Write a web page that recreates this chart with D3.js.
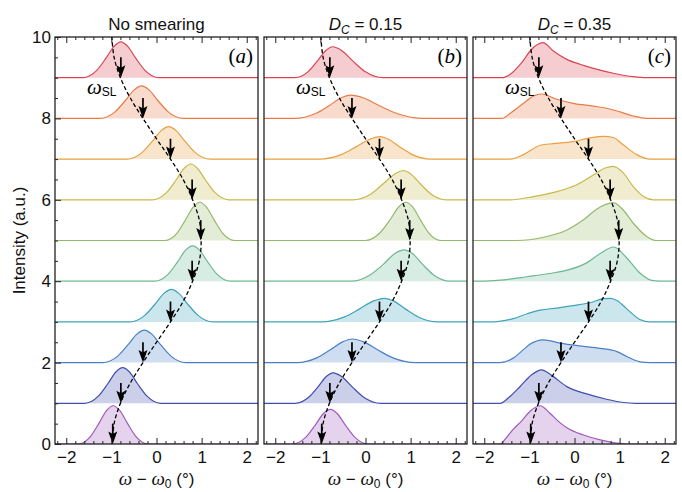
<!DOCTYPE html>
<html><head><meta charset="utf-8">
<script src="https://cdn.jsdelivr.net/npm/d3@7"></script>
<style>body{margin:0;background:#fff} svg{display:block}</style>
</head><body><svg id="chart" width="682" height="492"></svg>
<script>
// ---------------- DATA ----------------
const baselines = [0,1,2,3,4,5,6,7,8,9];
const panelTitles = ["No smearing", "D_C = 0.15", "D_C = 0.35"];
const panelTags = ["a","b","c"];
const xTicks = [-2,-1,0,1,2];
const yTicks = [0,2,4,6,8,10];
const curveColors = ["#9e5bbf","#3f4fae","#4a80c6","#3fa3b9","#6cb892","#94b96b","#c9b94c","#e9a043","#ea7b46","#db4552"];

// omega_SL dashed guide (x read at y steps)
const omegaY = [0,0.5,1,1.5,2,2.5,3,3.5,4,4.5,5,5.5,6,6.5,7,7.5,8,8.5,9,9.5,10];
const omegaX = [-0.98,-0.94,-0.80,-0.58,-0.30,0.0,0.31,0.59,0.80,0.95,0.99,0.95,0.80,0.59,0.31,0.0,-0.30,-0.58,-0.80,-0.94,-0.99];
// arrow positions at each baseline
const arrowX = [-0.97,-0.79,-0.30,0.31,0.79,0.98,0.79,0.31,-0.30,-0.79];

// curve key points [omega, intensity above baseline]
const curvesNoSmear = [
 [[-1.74,0],[-1.46,0.19],[-1.27,0.52],[-1.10,0.83],[-0.96,0.94],[-0.82,0.83],[-0.65,0.52],[-0.46,0.19],[-0.18,0]],
 [[-1.59,0],[-1.29,0.175],[-1.08,0.48],[-0.90,0.77],[-0.75,0.875],[-0.60,0.77],[-0.42,0.48],[-0.21,0.175],[0.09,0]],
 [[-1.19,0],[-0.86,0.16],[-0.63,0.44],[-0.435,0.70],[-0.27,0.80],[-0.105,0.70],[0.09,0.44],[0.32,0.16],[0.65,0]],
 [[-0.59,0],[-0.26,0.16],[-0.03,0.44],[0.165,0.70],[0.33,0.80],[0.495,0.70],[0.69,0.44],[0.92,0.16],[1.25,0]],
 [[-0.04,0],[0.26,0.175],[0.47,0.48],[0.65,0.77],[0.80,0.87],[0.95,0.77],[1.13,0.48],[1.34,0.175],[1.64,0]],
 [[0.18,0],[0.46,0.19],[0.65,0.52],[0.82,0.83],[0.96,0.94],[1.10,0.83],[1.27,0.52],[1.46,0.19],[1.74,0]],
 [[-0.08,0],[0.22,0.175],[0.43,0.48],[0.61,0.77],[0.76,0.88],[0.91,0.77],[1.09,0.48],[1.30,0.175],[1.60,0]],
 [[-0.65,0],[-0.32,0.16],[-0.09,0.44],[0.105,0.70],[0.27,0.80],[0.435,0.70],[0.63,0.44],[0.86,0.16],[1.19,0]],
 [[-1.25,0],[-0.92,0.16],[-0.69,0.44],[-0.495,0.70],[-0.33,0.80],[-0.165,0.70],[0.03,0.44],[0.26,0.16],[0.59,0]],
 [[-1.63,0],[-1.33,0.175],[-1.12,0.48],[-0.94,0.77],[-0.79,0.88],[-0.64,0.77],[-0.46,0.48],[-0.25,0.175],[0.05,0]]
];
const curvesD015 = [
 [[-1.62,0],[-1.32,0.17],[-1.11,0.47],[-0.93,0.75],[-0.78,0.85],[-0.63,0.75],[-0.45,0.47],[-0.24,0.17],[0.06,0]],
 [[-1.56,0],[-1.26,0.15],[-1.05,0.41],[-0.87,0.66],[-0.72,0.75],[-0.53,0.66],[-0.30,0.41],[-0.04,0.15],[0.34,0]],
 [[-1.52,0],[-1.08,0.116],[-0.77,0.32],[-0.51,0.51],[-0.29,0.58],[-0.04,0.51],[0.26,0.32],[0.61,0.116],[1.11,0]],
 [[-0.98,0],[-0.48,0.116],[-0.13,0.32],[0.17,0.51],[0.42,0.58],[0.63,0.51],[0.88,0.32],[1.18,0.116],[1.60,0]],
 [[-0.32,0],[0.10,0.154],[0.40,0.42],[0.65,0.68],[0.86,0.77],[1.04,0.68],[1.26,0.42],[1.51,0.154],[1.87,0]],
 [[0.00,0],[0.32,0.19],[0.55,0.52],[0.74,0.83],[0.90,0.94],[1.04,0.83],[1.21,0.52],[1.40,0.19],[1.68,0]],
 [[-0.28,0],[0.12,0.144],[0.40,0.40],[0.64,0.63],[0.84,0.72],[1.01,0.63],[1.21,0.40],[1.45,0.144],[1.79,0]],
 [[-1.02,0],[-0.54,0.11],[-0.21,0.30],[0.08,0.48],[0.32,0.55],[0.52,0.48],[0.76,0.30],[1.04,0.11],[1.44,0]],
 [[-1.56,0],[-1.12,0.114],[-0.81,0.31],[-0.55,0.50],[-0.33,0.57],[-0.04,0.50],[0.31,0.31],[0.71,0.114],[1.29,0]],
 [[-1.57,0],[-1.27,0.15],[-1.06,0.42],[-0.88,0.67],[-0.73,0.76],[-0.53,0.67],[-0.29,0.42],[-0.01,0.15],[0.39,0]]
];
const curvesD035 = [
 [[-1.65,0],[-1.50,0.17],[-1.36,0.36],[-1.17,0.57],[-0.99,0.80],[-0.76,0.94],[-0.54,0.75],[-0.35,0.55],[-0.17,0.40],[0.20,0.22],[0.57,0.10],[0.94,0.02],[1.16,0]],
 [[-1.65,0],[-1.45,0.15],[-1.20,0.42],[-0.95,0.70],[-0.73,0.82],[-0.50,0.68],[-0.17,0.41],[0.27,0.23],[0.71,0.10],[1.08,0.02],[1.35,0]],
 [[-1.65,0],[-1.36,0.11],[-1.15,0.30],[-0.99,0.45],[-0.69,0.56],[-0.32,0.48],[0.12,0.41],[0.57,0.35],[0.94,0.27],[1.16,0.15],[1.45,0.02],[1.67,0]],
 [[-1.80,0],[-1.36,0.08],[-1.05,0.20],[-0.76,0.29],[-0.39,0.34],[-0.03,0.40],[0.34,0.47],[0.64,0.57],[0.80,0.58],[0.95,0.52],[1.16,0.32],[1.45,0.06],[1.67,0]],
 [[-2.09,0],[-1.65,0.025],[-1.06,0.11],[-0.55,0.19],[-0.10,0.29],[0.27,0.45],[0.57,0.68],[0.87,0.84],[1.16,0.57],[1.45,0.20],[1.71,0.02],[1.90,0]],
 [[-1.28,0],[-0.69,0.08],[-0.17,0.26],[0.20,0.51],[0.49,0.77],[0.68,0.88],[0.86,0.93],[1.08,0.75],[1.30,0.43],[1.60,0.10],[1.82,0]],
 [[-1.43,0],[-0.91,0.08],[-0.39,0.20],[0.05,0.37],[0.42,0.61],[0.68,0.78],[0.86,0.82],[1.08,0.66],[1.30,0.33],[1.53,0.08],[1.75,0]],
 [[-1.43,0],[-1.13,0.11],[-0.76,0.34],[-0.47,0.38],[-0.03,0.43],[0.34,0.52],[0.64,0.56],[0.86,0.53],[1.08,0.35],[1.38,0.11],[1.67,0]],
 [[-1.61,0],[-1.43,0.12],[-1.13,0.37],[-0.91,0.55],[-0.73,0.60],[-0.39,0.47],[-0.03,0.37],[0.42,0.30],[0.71,0.25],[1.01,0.16],[1.30,0.06],[1.60,0]],
 [[-1.61,0],[-1.43,0.08],[-1.17,0.37],[-0.95,0.70],[-0.70,0.86],[-0.47,0.655],[-0.17,0.45],[0.12,0.33],[0.42,0.23],[0.86,0.11],[1.30,0.025],[1.60,0]]
];

// ---------------- DRAW ----------------
const svg = d3.select("#chart");
const sans = "'Liberation Sans', Arial, sans-serif";
const serif = "'Liberation Serif', 'Times New Roman', serif";
const panelX = [[55,258],[264,467],[473,676]];
const yTop = 37, yBot = 444;
const xDom = [-2.25, 2.25];
const y = d3.scaleLinear().domain([0,10]).range([yBot, yTop]);
const panels = [curvesNoSmear, curvesD015, curvesD035];

const defs = svg.append("defs");

panels.forEach((curves, p) => {
  const x = d3.scaleLinear().domain(xDom).range(panelX[p]);
  const cid = "clip" + p;
  defs.append("clipPath").attr("id", cid).append("rect")
    .attr("x", panelX[p][0]).attr("y", yTop)
    .attr("width", panelX[p][1]-panelX[p][0]).attr("height", yBot-yTop);
  const g = svg.append("g").attr("clip-path", `url(#${cid})`);

  curves.forEach((pts, i) => {
    const b = baselines[i];
    const full = [[xDom[0],0], ...pts, [xDom[1],0]];
    const area = d3.area().x(d => x(d[0])).y0(y(b)).y1(d => y(b + d[1])).curve(d3.curveMonotoneX);
    const line = d3.line().x(d => x(d[0])).y(d => y(b + d[1])).curve(d3.curveMonotoneX);
    g.append("path").attr("d", area(full)).attr("fill", curveColors[i]).attr("fill-opacity", 0.27);
    g.append("path").attr("d", line(full)).attr("fill", "none").attr("stroke", curveColors[i]).attr("stroke-width", 1.2);
  });

  // dashed omega_SL line
  const guide = d3.line().x(d => x(d[0])).y(d => y(d[1])).curve(d3.curveCatmullRom);
  g.append("path").attr("d", guide(omegaX.map((v,k)=>[v, omegaY[k]])))
    .attr("fill","none").attr("stroke","#000").attr("stroke-width",1.3).attr("stroke-dasharray","4,2.5");

  // arrows
  arrowX.forEach((ax, i) => {
    const b = baselines[i];
    const tx = x(ax), ty = y(b);
    g.append("line").attr("x1", tx).attr("x2", tx).attr("y1", y(b+0.5)).attr("y2", ty-8)
      .attr("stroke","#000").attr("stroke-width",1.7);
    g.append("path").attr("d", `M${tx},${ty} L${tx-4.5},${ty-12.5} L${tx},${ty-10} L${tx+4.5},${ty-12.5} Z`)
      .attr("fill","#000");
  });

  // omega_SL label
  const lab = svg.append("text").attr("x", panelX[p][0]+32).attr("y", 94);
  lab.append("tspan").text("ω").attr("font-family", serif).attr("font-style","italic").attr("font-size",21);
  lab.append("tspan").text("SL").attr("font-family", sans).attr("font-size",12).attr("dy",2);

  // panel tag
  const tag = svg.append("text").attr("x", panelX[p][1]-5).attr("y", 63).attr("text-anchor","end")
    .attr("font-family", serif).attr("font-size", 21);
  tag.append("tspan").text("(");
  tag.append("tspan").text(panelTags[p]).attr("font-style","italic");
  tag.append("tspan").text(")");

  // frame
  svg.append("rect").attr("x", panelX[p][0]).attr("y", yTop)
    .attr("width", panelX[p][1]-panelX[p][0]).attr("height", yBot-yTop)
    .attr("fill","none").attr("stroke","#222").attr("stroke-width",1.3);

  // x axes
  const minorX = d3.range(-22, 23, 2).map(v => v/10).filter(v => !xTicks.includes(Math.round(v*10)/10));
  const fmt = d => d < 0 ? "\u2212" + Math.abs(d) : String(d);
  svg.append("g").attr("transform", `translate(0,${yBot})`)
    .call(d3.axisBottom(x).tickValues(xTicks).tickSize(-6).tickPadding(7).tickFormat(fmt));
  svg.append("g").attr("transform", `translate(0,${yBot})`)
    .call(d3.axisBottom(x).tickValues(minorX).tickSize(-3).tickFormat(""));
  svg.append("g").attr("transform", `translate(0,${yTop})`)
    .call(d3.axisTop(x).tickValues(xTicks).tickSize(-6).tickFormat(""));
  svg.append("g").attr("transform", `translate(0,${yTop})`)
    .call(d3.axisTop(x).tickValues(minorX).tickSize(-3).tickFormat(""));

  if (p === 0) {
    const minorY = d3.range(0, 21).map(v => v/2).filter(v => !yTicks.includes(v));
    svg.append("g").attr("transform", `translate(${panelX[0][0]},0)`)
      .call(d3.axisLeft(y).tickValues(yTicks).tickSize(-6).tickPadding(4));
    svg.append("g").attr("transform", `translate(${panelX[0][0]},0)`)
      .call(d3.axisLeft(y).tickValues(minorY).tickSize(-3).tickFormat(""));
  }

  // title
  const cx = (panelX[p][0] + panelX[p][1]) / 2;
  const t = svg.append("text").attr("x", cx).attr("y", 30).attr("text-anchor","middle")
    .attr("font-family", sans).attr("font-size", 17).attr("fill","#111");
  if (panelTitles[p].startsWith("D_C")) {
    t.append("tspan").text("D").attr("font-style","italic");
    t.append("tspan").text("C").attr("font-style","italic").attr("font-size",12).attr("dy",4);
    t.append("tspan").text(panelTitles[p].slice(3)).attr("dy",-4);
  } else {
    t.text(panelTitles[p]);
  }

  // x label
  const xl = svg.append("text").attr("x", cx).attr("y", 485).attr("text-anchor","middle")
    .attr("font-family", sans).attr("font-size", 17).attr("fill","#111");
  xl.append("tspan").text("ω").attr("font-family", serif).attr("font-style","italic").attr("font-size",19);
  xl.append("tspan").text(" \u2212 ");
  xl.append("tspan").text("ω").attr("font-family", serif).attr("font-style","italic").attr("font-size",19);
  xl.append("tspan").text("0").attr("font-size",12).attr("dy",3);
  xl.append("tspan").text(" (°)").attr("dy",-3);
});

svg.selectAll(".domain").remove();
svg.selectAll(".tick line").attr("stroke","#222").attr("stroke-width",1);
svg.selectAll(".tick text").attr("font-family", sans).attr("font-size",17).attr("fill","#111");

svg.append("text").attr("transform", `translate(25,${(yTop+yBot)/2}) rotate(-90)`)
  .attr("text-anchor","middle").attr("font-family", sans).attr("font-size",17).attr("fill","#111")
  .text("Intensity (a.u.)");
</script></body></html>
